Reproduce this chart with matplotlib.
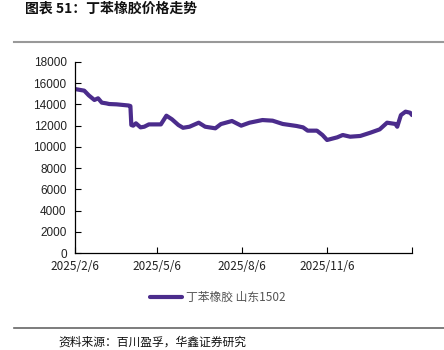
import matplotlib
matplotlib.use("Agg")
import matplotlib.pyplot as plt
import matplotlib.dates as mdates
import pandas as pd

plt.rcParams['font.family'] = ['Liberation Sans', 'Noto Sans CJK SC', 'DejaVu Sans']

dates = ["2025-02-06", "2025-02-12", "2025-02-16", "2025-02-21", "2025-02-27", "2025-03-03",
         "2025-03-07", "2025-03-12", "2025-03-15", "2025-03-23", "2025-04-05", "2025-04-07",
         "2025-04-08", "2025-04-10", "2025-04-13", "2025-04-18", "2025-04-22", "2025-04-27",
         "2025-05-05", "2025-05-10", "2025-05-16", "2025-05-22", "2025-05-29", "2025-06-03",
         "2025-06-10", "2025-06-20", "2025-06-27", "2025-07-08", "2025-07-14", "2025-07-26",
         "2025-08-05", "2025-08-14", "2025-08-28", "2025-09-08", "2025-09-19", "2025-10-04",
         "2025-10-11", "2025-10-16", "2025-10-26", "2025-11-01", "2025-11-06", "2025-11-17",
         "2025-11-23", "2025-12-01", "2025-12-12", "2025-12-23", "2026-01-02", "2026-01-10",
         "2026-01-19", "2026-01-21", "2026-01-25", "2026-01-30", "2026-02-04", "2026-02-06"]
values = [15450, 15360, 15300, 14850, 14420, 14580,
          14170, 14100, 14040, 14010, 13900, 13850,
          12060, 12000, 12220, 11840, 11900, 12120,
          12120, 12120, 12940, 12600, 12060, 11800,
          11900, 12280, 11900, 11750, 12150, 12440,
          12000, 12280, 12530, 12470, 12160, 11970,
          11840, 11530, 11530, 11120, 10650, 10900,
          11120, 10960, 11030, 11340, 11650, 12280,
          12160, 11900, 13000, 13320, 13220, 13000]
series_name = "丁苯橡胶 山东1502"
tick_dates = ["2025-02-06", "2025-05-06", "2025-08-06", "2025-11-06", "2026-02-06"]
tick_labels = ["2025/2/6", "2025/5/6", "2025/8/6", "2025/11/6", ""]
yticks = list(range(0, 18001, 2000))

x = pd.to_datetime(dates)
fig = plt.figure(figsize=(4.44, 3.5), dpi=100)
ax = fig.add_axes([75/444, 1-253/350, (412-75)/444, (253-62)/350])
line_color = "#4B2C8C"
ax.plot(x, values, color=line_color, lw=3.0, solid_joinstyle='round', solid_capstyle='round')
ax.set_ylim(0, 18000)
ax.set_xlim(pd.Timestamp(tick_dates[0]), pd.Timestamp(tick_dates[-1]))
ax.set_yticks(yticks)
ax.set_yticklabels([str(v) for v in yticks], fontsize=8.5, color="#222222")
ax.set_xticks(pd.to_datetime(tick_dates))
ax.set_xticklabels(tick_labels, fontsize=8.5, color="#222222",
                   family=['Noto Sans CJK SC', 'DejaVu Sans'])
ax.tick_params(direction='in', length=4, width=0.8, color='black')
ax.tick_params(axis='y', pad=6)
ax.tick_params(axis='x', pad=5)
for s in ['top', 'right']:
    ax.spines[s].set_visible(False)
for s in ['left', 'bottom']:
    ax.spines[s].set_linewidth(0.9)
    ax.spines[s].set_color('black')

# legend
fig.lines.append(plt.Line2D([150/444, 182/444], [1-297/350, 1-297/350], transform=fig.transFigure,
                            color=line_color, lw=3.0, solid_capstyle='round'))
fig.text(186/444, 1-297/350, series_name, fontsize=8.5, color="#555555", va='center', ha='left',
         family=['Noto Sans CJK SC', 'DejaVu Sans'])

# title and rules
fig.text(25/444, 1-9/350, "图表 51：丁苯橡胶价格走势", fontsize=10, fontweight='bold', va='center',
         ha='left', color="#111111", family=['Noto Sans CJK SC', 'DejaVu Sans'])
fig.lines.append(plt.Line2D([14/444, 1], [1-42/350, 1-42/350], transform=fig.transFigure,
                            color="#999999", lw=1.5))
fig.lines.append(plt.Line2D([14/444, 1], [1-328/350, 1-328/350], transform=fig.transFigure,
                            color="#666666", lw=1.2))
fig.text(58/444, 1-342/350, "资料来源：百川盈孚，华鑫证券研究", fontsize=8.5, va='center', ha='left',
         color="#111111", family=['Noto Sans CJK SC', 'DejaVu Sans'])

fig.savefig("out.png", dpi=100)
